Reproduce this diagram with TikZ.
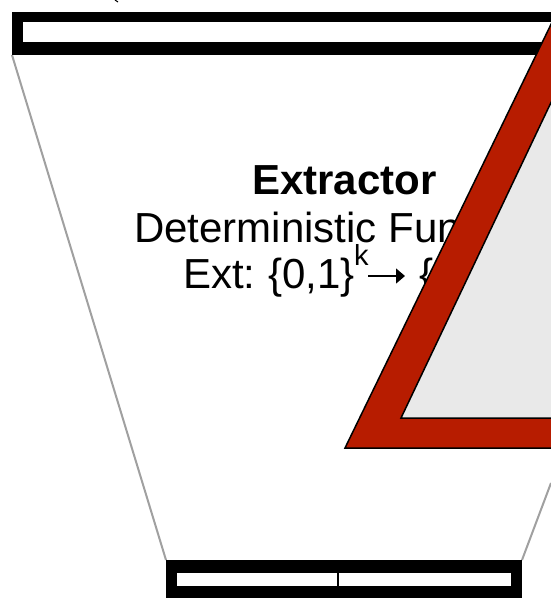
\documentclass[tikz,border=0pt]{standalone}
\usepackage{fontspec}
\setmainfont{Liberation Sans}
\definecolor{WarnRed}  {RGB}{183,28,0}
\definecolor{WarnGrey} {RGB}{233,233,233}
\definecolor{FunnelGrey}{RGB}{160,160,160}
\usetikzlibrary{arrows.meta,positioning}

\begin{document}
\begin{tikzpicture}[x=1pt,y=-1pt,
  funnel/.style={draw=FunnelGrey,line width=2pt},
  barouter/.style={fill=black},
  barinner/.style={fill=white},
  title/.style={inner sep=0pt,anchor=base west,font=\fontsize{42}{44}\selectfont\bfseries},
  body/.style={inner sep=0pt,anchor=base west,font=\fontsize{42}{44}\selectfont}]
  \useasboundingbox (0,0) rectangle (551,598);
  \clip (0,0) rectangle (551,598);
  % funnel sides
  \draw[funnel](12,55)--(166,560);
  \draw[funnel](522,560)--(551,483);
  % input and output bars
  \fill[barouter](12,12) rectangle (560,55);
  \fill[barinner](23,22) rectangle (560,42);
  \fill[barouter](166,560) rectangle (522,598);
  \fill[barinner](177,573) rectangle (511,586);
  \draw[black,line width=1.2pt](338,560)--(338,598);
  \draw[black,line width=1pt](115,0)--(118,2);
  % labels
  \node[title](T) at (252,194){Extractor};
  \node[body](D) at (134,242){Deterministic Fun};
  \node[body](E) at (183,288){Ext:\hspace{12.5pt}\{0,1\}};
  \node[inner sep=0pt,anchor=base west,font=\fontsize{29}{30}\selectfont](K) at (354,265){k};
  \coordinate(A1) at (368,276);
  \coordinate(A2) at (405,276);
  \draw[-{Triangle[length=9pt,width=15pt]},line width=1.3pt](A1)--(A2);
  \node[body](B) at (419,288){\{};
  % warning sign on top
  \draw[fill=WarnRed,line width=1.5pt](345,448)--(575,-25)--(575,448)--cycle;
  \draw[fill=WarnGrey,line width=1.5pt](401,418)--(575,52)--(575,418)--cycle;
\end{tikzpicture}
\end{document}
